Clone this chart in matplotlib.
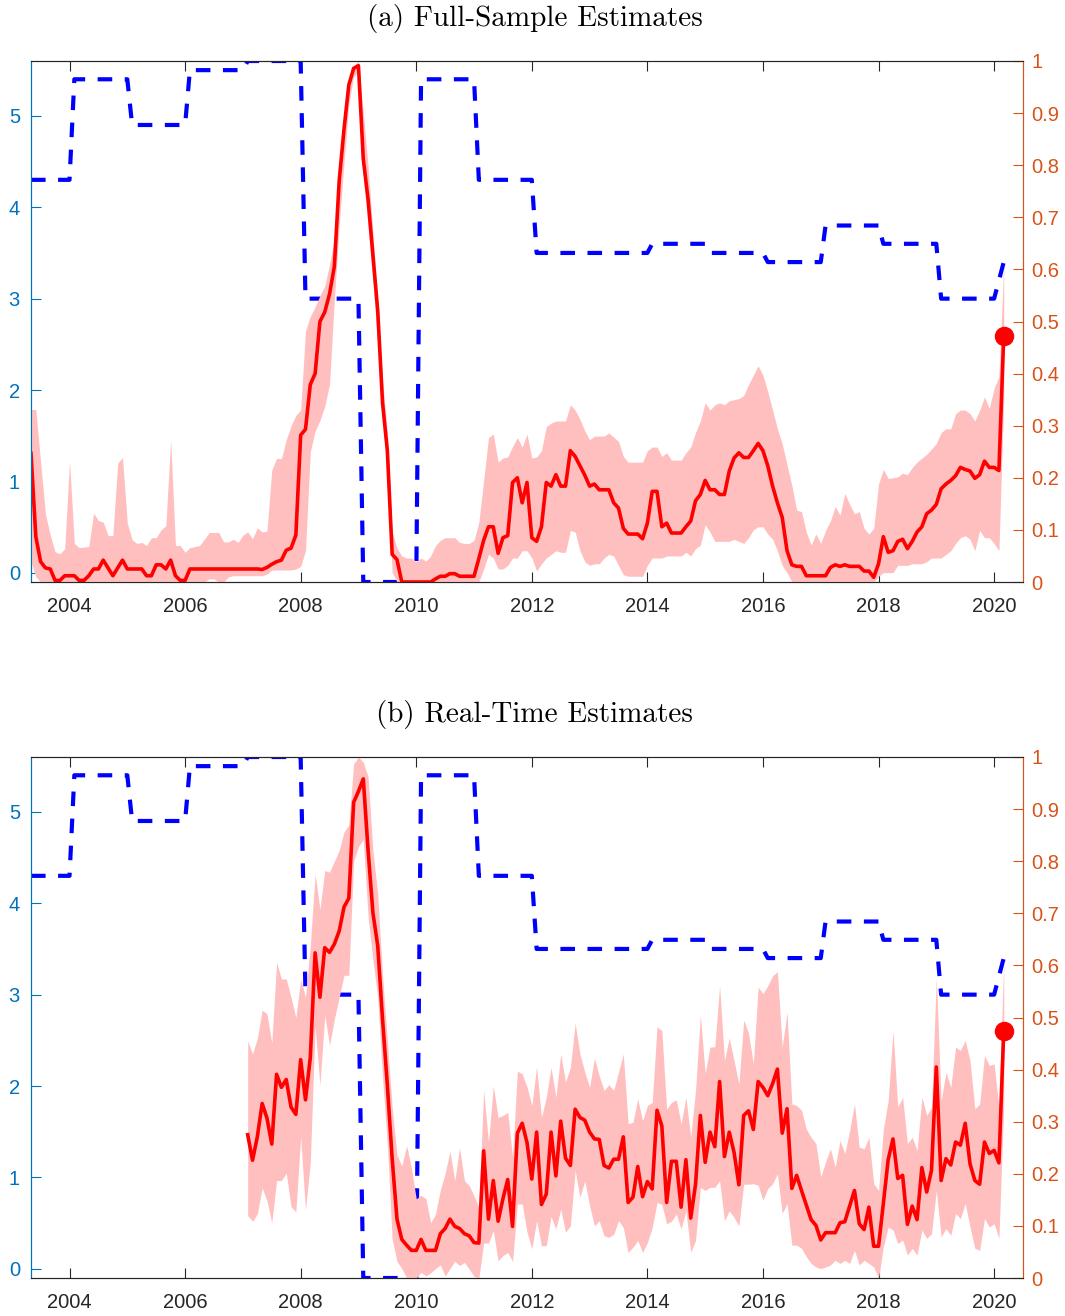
import numpy as np
import pandas as pd
import matplotlib
matplotlib.use('Agg')
import matplotlib.pyplot as plt
from matplotlib.ticker import FuncFormatter

# policy rate (left axis), breakpoints of the step series
rate_dates = ['2003-05', '2004-01', '2004-02', '2005-01', '2005-02', '2006-01', '2006-02',
              '2007-01', '2007-02', '2008-01', '2008-02', '2009-01', '2009-02', '2010-01',
              '2010-02', '2011-01', '2011-02', '2012-01', '2012-02', '2014-01', '2014-02',
              '2015-01', '2015-02', '2016-01', '2016-02', '2017-01', '2017-02', '2018-01',
              '2018-02', '2019-01', '2019-02', '2020-01', '2020-03']
rate_vals = [4.3, 4.3, 5.4, 5.4, 4.9, 4.9, 5.5,
             5.5, 5.6, 5.6, 3.0, 3.0, -0.1, -0.1,
             5.4, 5.4, 4.3, 4.3, 3.5, 3.5, 3.6,
             3.6, 3.5, 3.5, 3.4, 3.4, 3.8, 3.8,
             3.6, 3.6, 3.0, 3.0, 3.4]

# (a) full-sample estimates, monthly 2003-05 .. 2020-03 (right axis)
full_start, full_end = '2003-05', '2020-03'
full_mean = [
    .247, .087, .039, .027, .025, .003, .003, .012,
    .012, .012, .003, .003, .012, .025, .025, .042, .027, .012, .027, .042,
    .025, .025, .025, .025, .012, .012, .033, .033, .025, .042, .012, .003,
    .003, .025, .025, .025, .025, .025, .025, .025, .025, .025, .025, .025,
    .025, .025, .025, .025, .024, .028, .034, .039, .042, .061, .065, .090,
    .282, .293, .379, .400, .500, .518, .553, .606, .770, .869, .954, .986,
    .991, .812, .734, .628, .521, .344, .252, .053, .043, 0, 0, 0,
    0, 0, 0, 0, .006, .011, .011, .016, .016, .011, .011, .011,
    .011, .045, .080, .106, .106, .055, .085, .089, .191, .200, .152, .191,
    .085, .078, .106, .191, .184, .206, .184, .184, .252, .241, .223, .205,
    .184, .188, .177, .177, .177, .152, .142, .103, .092, .092, .092, .083,
    .113, .174, .174, .106, .113, .094, .094, .094, .106, .117, .156, .168,
    .195, .177, .177, .168, .168, .213, .238, .248, .239, .239, .252, .266,
    .252, .223, .184, .152, .124, .060, .033, .030, .030, .012, .012, .012,
    .012, .012, .028, .033, .030, .033, .030, .030, .030, .021, .021, .009,
    .035, .087, .057, .060, .078, .082, .064, .078, .096, .106, .131, .138,
    .149, .179, .188, .195, .204, .220, .216, .213, .199, .206, .232, .220,
    .220, .214, .472]
full_hi = [
    .331, .331, .230, .130, .090, .058, .054, .064,
    .232, .074, .066, .067, .068, .132, .118, .115, .089, .089, .228, .239,
    .113, .081, .074, .076, .070, .085, .085, .100, .108, .273, .070, .070,
    .057, .066, .068, .070, .082, .095, .095, .095, .077, .077, .082, .076,
    .090, .096, .083, .104, .096, .098, .215, .237, .237, .273, .300, .320,
    .330, .482, .510, .528, .550, .568, .610, .660, .770, .860, .940, .990,
    1.0, .900, .798, .670, .543, .387, .287, .096, .065, .050, .046, .046,
    .039, .046, .040, .050, .070, .080, .085, .085, .085, .076, .074, .074,
    .080, .115, .195, .277, .284, .230, .238, .240, .260, .277, .259, .284,
    .238, .240, .252, .298, .305, .309, .309, .309, .340, .330, .312, .290,
    .273, .280, .280, .280, .286, .278, .270, .241, .230, .230, .230, .230,
    .252, .259, .259, .241, .248, .234, .234, .234, .248, .259, .287, .309,
    .344, .330, .340, .344, .340, .348, .350, .352, .358, .379, .397, .415,
    .397, .365, .330, .294, .265, .225, .185, .138, .135, .096, .071, .092,
    .074, .099, .117, .145, .128, .170, .149, .131, .135, .103, .092, .103,
    .188, .216, .199, .200, .202, .209, .206, .220, .230, .238, .245, .255,
    .266, .287, .294, .294, .323, .330, .330, .323, .309, .330, .355, .333,
    .372, .394, .606]
full_lo = [
    .039, .010, 0, 0, 0, 0, 0, 0,
    0, 0, 0, 0, 0, 0, 0, 0, 0, 0, 0, 0,
    0, 0, 0, 0, 0, 0, 0, 0, 0, 0, 0, 0,
    0, 0, 0, 0, 0, .006, .006, 0, 0, .010, .012, .012,
    .012, .012, .012, .012, .012, .015, .023, .023, .023, .023, .023, .025,
    .030, .060, .250, .290, .310, .337, .380, .543, .684, .805, .918, .970,
    .982, .780, .684, .578, .457, .330, .200, .018, 0, 0, 0, 0,
    0, 0, 0, 0, 0, 0, 0, 0, 0, 0, 0, 0,
    0, 0, .025, .053, .046, .025, .025, .032, .046, .046, .060, .060,
    .046, .021, .035, .046, .053, .060, .057, .057, .099, .096, .060, .039,
    .032, .035, .035, .046, .053, .050, .032, .014, .011, .011, .011, .011,
    .032, .046, .046, .046, .050, .050, .050, .050, .057, .050, .064, .071,
    .110, .096, .078, .078, .078, .078, .082, .078, .074, .085, .100, .106,
    .106, .092, .082, .060, .032, .018, 0, 0, 0, 0, 0, 0,
    0, 0, 0, 0, 0, 0, 0, 0, 0, 0, 0, 0,
    .011, .018, .018, .018, .032, .032, .032, .035, .035, .035, .039, .046,
    .046, .046, .053, .060, .074, .085, .089, .082, .060, .099, .085, .085,
    .074, .060, .350]

# (b) real-time estimates, monthly 2007-02 .. 2020-03 (right axis)
rt_start, rt_end = '2007-02', '2020-03'
rt_mean = [
    .275, .226, .271, .335, .307, .257, .391, .366, .381, .328, .314,
    .419, .342, .423, .624, .539, .634, .625, .641, .666, .712, .729, .913,
    .934, .958, .821, .701, .638, .497, .370, .229, .113, .074, .063, .053,
    .053, .074, .053, .053, .053, .085, .095, .113, .099, .095, .085, .081,
    .068, .067, .244, .113, .187, .109, .152, .189, .099, .278, .297, .260,
    .190, .280, .141, .161, .280, .196, .301, .230, .216, .324, .308, .303,
    .280, .267, .266, .216, .211, .228, .228, .271, .145, .155, .214, .156,
    .185, .171, .322, .292, .145, .224, .224, .136, .227, .115, .180, .312,
    .222, .280, .252, .377, .233, .280, .241, .179, .312, .321, .285, .377,
    .366, .350, .373, .401, .278, .325, .172, .197, .168, .140, .112, .101,
    .073, .087, .087, .087, .106, .108, .138, .168, .104, .093, .136, .061,
    .061, .143, .227, .267, .191, .197, .103, .138, .112, .212, .165, .207,
    .405, .187, .229, .217, .261, .255, .297, .219, .187, .180, .261, .239,
    .245, .221, .474]
rt_hi = [
    .455, .430, .460, .514, .507, .451, .606, .574, .574, .539, .500,
    .574, .539, .638, .775, .708, .782, .779, .800, .821, .856, .870, .987,
    1.0, .990, .962, .821, .736, .581, .455, .328, .236, .215, .254, .211,
    .152, .159, .152, .106, .123, .169, .201, .243, .187, .250, .187, .177,
    .158, .136, .360, .260, .369, .308, .312, .318, .232, .397, .392, .367,
    .331, .406, .308, .347, .404, .347, .430, .376, .404, .489, .430, .395,
    .366, .422, .388, .360, .371, .360, .395, .430, .296, .299, .344, .302,
    .331, .337, .482, .475, .324, .337, .342, .296, .347, .270, .360, .505,
    .393, .443, .444, .561, .417, .461, .417, .372, .495, .470, .411, .558,
    .546, .561, .580, .588, .443, .510, .334, .331, .322, .286, .270, .258,
    .194, .223, .248, .213, .264, .239, .283, .334, .251, .248, .270, .181,
    .168, .286, .340, .475, .328, .347, .258, .270, .245, .347, .312, .328,
    .577, .340, .395, .366, .443, .437, .456, .417, .325, .334, .427, .408,
    .411, .328, .609]
rt_lo = [
    .120, .109, .123, .173, .148, .106, .187, .187, .201, .137, .127,
    .271, .130, .222, .483, .370, .504, .447, .497, .539, .581, .581, .800,
    .828, .842, .694, .610, .539, .384, .257, .074, .032, .018, 0, 0,
    0, .011, .004, .010, .018, .025, .004, .018, .032, .024, .030, .017,
    .003, 0, .067, .067, .091, .033, .043, .049, .032, .142, .142, .088,
    .056, .110, .062, .062, .118, .094, .132, .088, .100, .206, .155, .187,
    .139, .100, .110, .081, .078, .084, .110, .097, .049, .059, .072, .049,
    .068, .097, .145, .141, .104, .109, .123, .094, .129, .049, .072, .174,
    .168, .174, .174, .187, .110, .129, .116, .100, .180, .180, .181, .178,
    .149, .172, .181, .200, .124, .143, .063, .063, .057, .041, .028, .021,
    .018, .021, .025, .034, .028, .034, .028, .053, .025, .034, .028, .021,
    0, .060, .098, .092, .066, .073, .044, .057, .044, .092, .076, .085,
    .168, .079, .095, .082, .124, .114, .143, .098, .057, .053, .114, .098,
    .104, .076, .330]

year_ticks = list(range(2004, 2021, 2))
prob_ticks = [0, .1, .2, .3, .4, .5, .6, .7, .8, .9, 1]

BLUE = '#0072BD'
ORANGE = '#D95319'
DARK = '#262626'
BAND = '#ffbfbf'


def to_years(periods):
    p = pd.PeriodIndex(periods, freq='M')
    return np.asarray(p.year + (p.month - 1) / 12.0)


def months(start, end):
    return to_years(pd.period_range(start, end, freq='M'))


rate_t = to_years(rate_dates)


def panel(fig, rect, title, start, end, mean, lo, hi):
    t = months(start, end)
    assert len(t) == len(mean) == len(lo) == len(hi)

    ax = fig.add_axes(rect)
    ax.plot(rate_t, rate_vals, color='b', lw=3, dashes=(3.5, 3.0))
    ax.set_ylim(min(rate_vals), max(rate_vals))
    ax.set_xlim(to_years(['2003-05'])[0], 2020.5)
    ax.set_xticks(year_ticks)
    ax.set_yticks([0, 1, 2, 3, 4, 5])

    ax2 = ax.twinx()
    ax2.fill_between(t, lo, hi, color=BAND, lw=0)
    ax2.plot(t, mean, color='r', lw=2.6, solid_joinstyle='round')
    ax2.plot(t[-1], mean[-1], 'o', color='r', ms=13)
    ax2.set_ylim(0, 1)
    ax2.set_yticks(prob_ticks)
    ax2.yaxis.set_major_formatter(FuncFormatter(lambda v, p: f'{v:g}'))

    for a in (ax, ax2):
        a.spines['left'].set_color(BLUE)
        a.spines['right'].set_color(ORANGE)
        a.spines['top'].set_color(DARK)
        a.spines['bottom'].set_color(DARK)
        for s in a.spines.values():
            s.set_linewidth(0.8)

    ax.tick_params(axis='x', direction='in', top=True, length=7, width=0.8,
                   colors=DARK, labelsize=14.5, pad=11)
    ax.tick_params(axis='y', direction='in', length=7, width=0.8,
                   colors=BLUE, labelsize=14.5, pad=8)
    ax2.tick_params(axis='y', direction='in', length=7, width=0.8,
                    colors=ORANGE, labelsize=14.5, pad=6)
    for lab in ax.get_xticklabels() + ax.get_yticklabels() + ax2.get_yticklabels():
        lab.set_family('Liberation Sans')

    ttl = ax.set_title(title, fontsize=21, family='cmr10', pad=25)
    ttl.set_x(0.508)
    return ax, ax2


fig = plt.figure(figsize=(10.65, 13.16), dpi=100)
W, H = 1065.0, 1316.0
left, width = 31 / W, 992 / W
panel(fig, [left, 1 - 582 / H, width, 521 / H], '(a) Full-Sample Estimates',
      full_start, full_end, full_mean, full_lo, full_hi)
panel(fig, [left, 1 - 1278 / H, width, 521 / H], '(b) Real-Time Estimates',
      rt_start, rt_end, rt_mean, rt_lo, rt_hi)

fig.savefig('out.png', dpi=100)
